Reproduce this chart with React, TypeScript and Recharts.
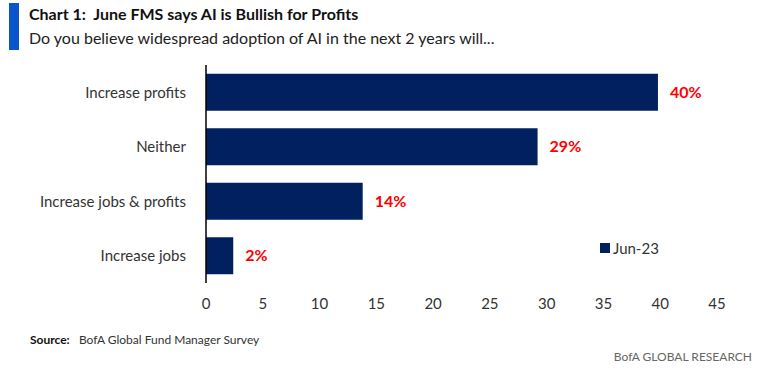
import { BarChart, Bar, XAxis, YAxis, LabelList } from 'recharts';

const categories = ['Increase profits', 'Neither', 'Increase jobs & profits', 'Increase jobs'];
const jun23 = [39.8, 29.2, 13.8, 2.4];
const xTicks = [0, 5, 10, 15, 20, 25, 30, 35, 40, 45];
const seriesName = 'Jun-23';

const data = categories.map((name, i) => ({ name, jun23: jun23[i] }));

const font = 'Lato, "Open Sans", sans-serif';
const navy = '#002060';

export default function App() {
  return (
    <div style={{ position: 'absolute', left: 0, top: 0, width: 761, height: 370, background: '#fff', fontFamily: font, overflow: 'hidden' }}>
      <div style={{ position: 'absolute', left: 9, top: 3, width: 10, height: 47, background: '#0a55c8' }} />
      <div style={{ position: 'absolute', left: 29, top: 4, fontSize: 16, fontWeight: 700, color: '#111', whiteSpace: 'nowrap' }}>
        Chart 1:&nbsp; June FMS says AI is Bullish for Profits
      </div>
      <div style={{ position: 'absolute', left: 29, top: 28, fontSize: 16, color: '#222', whiteSpace: 'nowrap' }}>
        Do you believe widespread adoption of AI in the next 2 years will...
      </div>

      <BarChart
        width={761}
        height={370}
        data={data}
        layout="vertical"
        margin={{ top: 65, right: 44, left: 0, bottom: 57 }}
        barCategoryGap="16%"
      >
        <XAxis
          type="number"
          domain={[0, 45]}
          ticks={xTicks}
          axisLine={false}
          tickLine={false}
          tickMargin={9}
          height={30}
          tick={{ fontSize: 15, fill: '#333', fontFamily: font }}
        />
        <YAxis
          type="category"
          dataKey="name"
          width={206}
          axisLine={{ stroke: '#000', strokeWidth: 1.5 }}
          tickLine={false}
          tickMargin={14}
          tick={{ fontSize: 15, fill: '#333', fontFamily: font }}
        />
        <Bar dataKey="jun23" name={seriesName} fill={navy} isAnimationActive={false}>
          <LabelList
            dataKey="jun23"
            position="right"
            offset={12}
            fill="#ff0000"
            fontSize={16}
            fontWeight={700}
            fontFamily={font}
            formatter={(v: number) => `${Math.round(v)}%`}
          />
        </Bar>
      </BarChart>

      <div style={{ position: 'absolute', left: 600, top: 239, display: 'flex', alignItems: 'center', fontSize: 15, color: '#333', whiteSpace: 'nowrap' }}>
        <span style={{ display: 'inline-block', width: 10, height: 10, background: navy, marginRight: 3 }} />
        {seriesName}
      </div>

      <div style={{ position: 'absolute', left: 30, top: 332, fontSize: 12, color: '#333', whiteSpace: 'nowrap' }}>
        <b style={{ color: '#111' }}>Source:</b>&nbsp;&nbsp; BofA Global Fund Manager Survey
      </div>
      <div style={{ position: 'absolute', right: 9, top: 349, fontSize: 12, color: '#666', whiteSpace: 'nowrap' }}>
        BofA GLOBAL RESEARCH
      </div>
    </div>
  );
}
